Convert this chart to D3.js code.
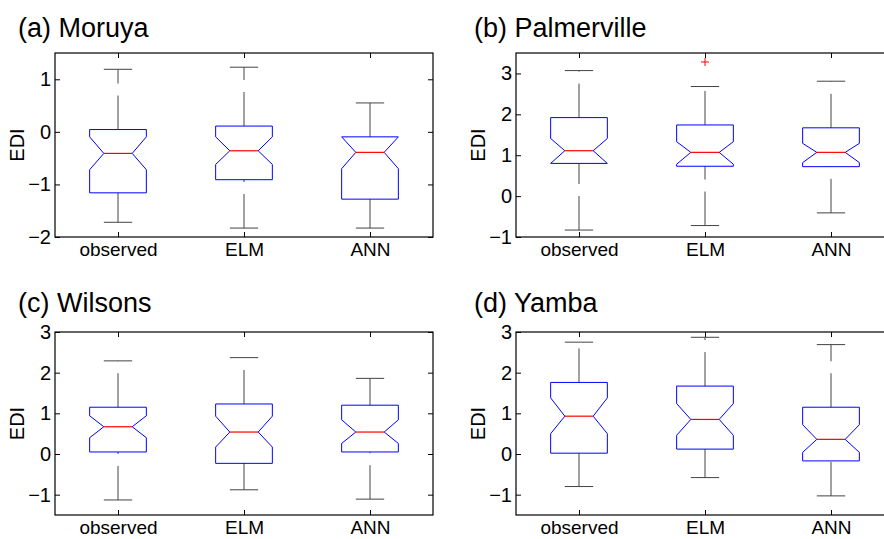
<!DOCTYPE html>
<html>
<head>
<meta charset="utf-8">
<script src="https://cdn.jsdelivr.net/npm/d3@7"></script>
<style>
  body { margin: 0; background: #fff; }
  text { font-family: "Liberation Sans", Arial, Helvetica, sans-serif; fill: #000; }
</style>
</head>
<body>
<div class="chart"></div>
<script>
// values (EDI), per panel: [observed, ELM, ANN]
const panelTitles = ["(a) Moruya", "(b) Palmerville", "(c) Wilsons", "(d) Yamba"];
const groups = ["observed", "ELM", "ANN"];
const yDomains = [[-2, 1.5], [-1, 3.5], [-1.5, 3], [-1.5, 3]];
const yTicks = [[-2, -1, 0, 1], [-1, 0, 1, 2, 3], [-1, 0, 1, 2, 3], [-1, 0, 1, 2, 3]];

const lowerWhisker = [[-1.72, -1.83, -1.83], [-0.83, -0.72, -0.41], [-1.13, -0.88, -1.11], [-0.80, -0.58, -1.03]];
const q1 = [[-1.16, -0.91, -1.28], [0.80, 0.73, 0.72], [0.05, -0.23, 0.05], [0.02, 0.12, -0.17]];
const notchLo = [[-0.72, -0.62, -0.70], [0.80, 0.78, 0.82], [0.40, 0.17, 0.26], [0.50, 0.46, 0.04]];
const medians = [[-0.41, -0.36, -0.39], [1.11, 1.07, 1.07], [0.67, 0.54, 0.54], [0.93, 0.85, 0.36]];
const notchHi = [[-0.095, -0.095, -0.095], [1.41, 1.33, 1.29], [0.94, 0.93, 0.84], [1.38, 1.24, 0.72]];
const q3 = [[0.044, 0.11, -0.095], [1.92, 1.74, 1.67], [1.15, 1.23, 1.20], [1.76, 1.67, 1.15]];
const upperWhisker = [[1.19, 1.23, 0.55], [3.07, 2.68, 2.81], [2.29, 2.37, 1.86], [2.75, 2.87, 2.69]];
const outliers = [[], [{group: "ELM", value: 3.28}], [], []];

const svg = d3.select('.chart').append('svg')
    .attr('width', 884)
    .attr('height', 539);

let colLeft = [55, 516];
let rowTop = [53, 332];
let plotW = 378;
let plotH = [184, 183];
let titleX = [18, 474];
let titleY = [37, 312];

panelTitles.forEach((title, p) => {
    let col = p % 2, row = Math.floor(p / 2);
    let h = plotH[row];
    let g = svg.append('g')
        .attr('transform', 'translate(' + colLeft[col] + ',' + rowTop[row] + ')');

    svg.append('text')
        .attr('x', titleX[col])
        .attr('y', titleY[row])
        .style('font-size', '27px')
        .text(title);

    let x = d3.scalePoint().domain(groups).range([0, plotW]).padding(0.5);
    let y = d3.scaleLinear().domain(yDomains[p]).range([h, 0]);
    let bw = x.step() * 0.45;

    // axes, ticks pointing inward like matlab
    let left = g.append('g')
        .call(d3.axisLeft(y).tickValues(yTicks[p]).tickSize(-5).tickPadding(4).tickFormat(d3.format('d')));
    let right = g.append('g')
        .attr('transform', 'translate(' + plotW + ',0)')
        .call(d3.axisRight(y).tickValues(yTicks[p]).tickSize(-5).tickFormat(''));
    let bottom = g.append('g')
        .attr('transform', 'translate(0,' + h + ')')
        .call(d3.axisBottom(x).tickSize(-5).tickPadding(6));
    let top = g.append('g')
        .call(d3.axisTop(x).tickSize(-5).tickFormat(''));
    [left, right, bottom, top].forEach(a => {
        a.select('.domain').remove();
        a.selectAll('line').attr('stroke', '#000');
    });
    left.selectAll('text').style('font-size', '20px').attr('fill', '#000');
    bottom.selectAll('text').style('font-size', '19px').attr('fill', '#000');

    g.append('rect')
        .attr('x', 0).attr('y', 0)
        .attr('width', plotW).attr('height', h)
        .attr('fill', 'none')
        .attr('stroke', '#000')
        .attr('stroke-width', 1.2);

    g.append('text')
        .attr('transform', 'translate(-38,' + (h / 2) + ') rotate(-90)')
        .style('text-anchor', 'middle')
        .style('font-size', '20px')
        .attr('dy', '0.35em')
        .text('EDI');

    groups.forEach((grp, i) => {
        let cx = x(grp);
        // whiskers: dashed, drawn from the lower value upward
        g.append('line')
            .attr('x1', cx).attr('x2', cx)
            .attr('y1', y(q3[p][i])).attr('y2', y(upperWhisker[p][i]))
            .attr('stroke', '#444').attr('stroke-dasharray', '34,12');
        g.append('line')
            .attr('x1', cx).attr('x2', cx)
            .attr('y1', y(lowerWhisker[p][i])).attr('y2', y(q1[p][i]))
            .attr('stroke', '#444').attr('stroke-dasharray', '34,12');
        [upperWhisker[p][i], lowerWhisker[p][i]].forEach(v => {
            g.append('line')
                .attr('x1', cx - bw / 4).attr('x2', cx + bw / 4)
                .attr('y1', y(v)).attr('y2', y(v))
                .attr('stroke', '#444');
        });

        // notched box
        let l = cx - bw / 2, r = cx + bw / 2;
        let nl = cx - bw / 4, nr = cx + bw / 4;
        let pts = [
            [l, y(q1[p][i])], [l, y(notchLo[p][i])], [nl, y(medians[p][i])],
            [l, y(notchHi[p][i])], [l, y(q3[p][i])], [r, y(q3[p][i])],
            [r, y(notchHi[p][i])], [nr, y(medians[p][i])], [r, y(notchLo[p][i])],
            [r, y(q1[p][i])]
        ];
        g.append('path')
            .attr('d', d3.line()(pts) + 'Z')
            .attr('fill', 'none')
            .attr('stroke', '#0000ff')
            .attr('stroke-width', 1);
        g.append('line')
            .attr('x1', nl).attr('x2', nr)
            .attr('y1', y(medians[p][i])).attr('y2', y(medians[p][i]))
            .attr('stroke', '#ff0000')
            .attr('stroke-width', 1.2);
    });

    outliers[p].forEach(o => {
        let ox = x(o.group), oy = y(o.value);
        g.append('path')
            .attr('d', 'M' + (ox - 4) + ',' + oy + 'H' + (ox + 4) + 'M' + ox + ',' + (oy - 4) + 'V' + (oy + 4))
            .attr('stroke', '#ff0000')
            .attr('fill', 'none');
    });
});
</script>
</body>
</html>
